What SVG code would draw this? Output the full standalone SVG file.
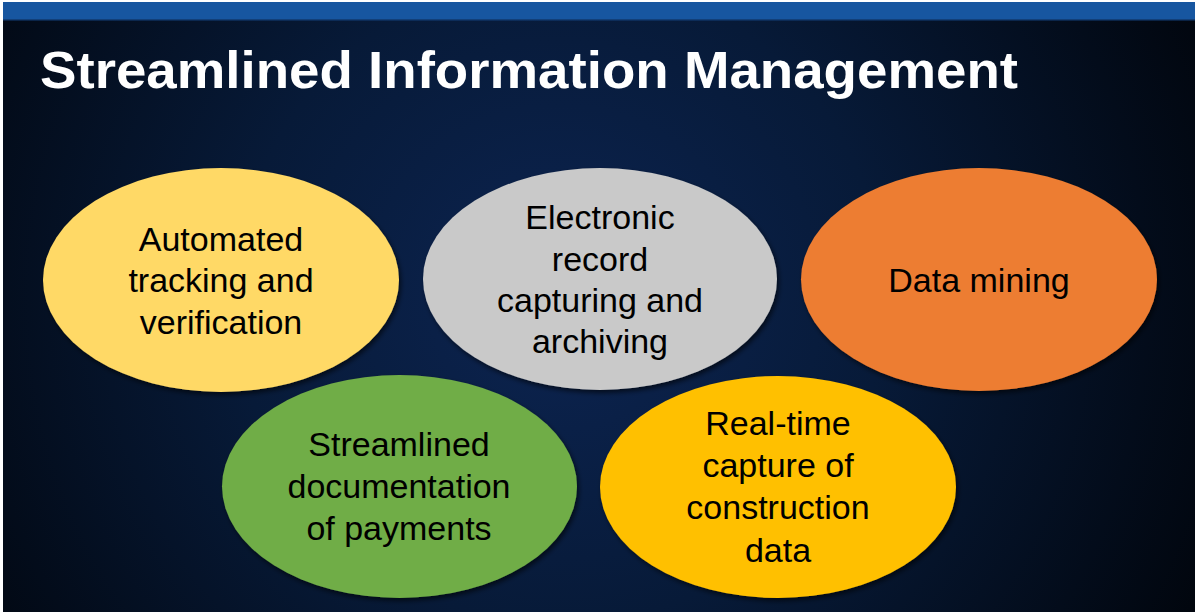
<svg xmlns="http://www.w3.org/2000/svg" width="1196" height="612" viewBox="0 0 1196 612">
  <defs>
    <radialGradient id="bg" cx="560" cy="300" r="720" gradientUnits="userSpaceOnUse">
      <stop offset="0" stop-color="#0c2451"/>
      <stop offset="0.45" stop-color="#071a38"/>
      <stop offset="1" stop-color="#01050c"/>
    </radialGradient>
    <filter id="sh" x="-10%" y="-10%" width="125%" height="125%">
      <feGaussianBlur in="SourceAlpha" stdDeviation="2.5"/>
      <feOffset dx="2" dy="3" result="b"/>
      <feFlood flood-color="#000" flood-opacity="0.6"/>
      <feComposite in2="b" operator="in"/>
      <feMerge><feMergeNode/><feMergeNode in="SourceGraphic"/></feMerge>
    </filter>
  </defs>
  <style>
    .lbl { font-family: "Liberation Sans", Arial, sans-serif; font-size: 34px; fill: #000; text-anchor: middle; }
    .title { font-family: "Liberation Sans", Arial, sans-serif; font-size: 52px; font-weight: bold; fill: #fff; }
    .node ellipse { filter: url(#sh); }
  </style>
  <rect width="1196" height="612" fill="#ffffff"/>
  <rect x="3" y="2" width="1192" height="610" fill="url(#bg)"/>
  <rect x="3" y="2" width="1192" height="18" fill="#1756a0"/>
  <rect x="3" y="19" width="1192" height="1.5" fill="#123f78"/>
  <text class="title" x="40" y="88" textLength="978" lengthAdjust="spacingAndGlyphs">Streamlined Information Management</text>
  <g id="connectors"></g>
  <g id="node-tracking" class="node">
    <ellipse cx="221" cy="280" rx="178" ry="112" fill="#ffd966"/>
    <text class="lbl" x="221" y="250.5">Automated</text>
    <text class="lbl" x="221" y="292">tracking and</text>
    <text class="lbl" x="221" y="334">verification</text>
  </g>
  <g id="node-electronic" class="node">
    <ellipse cx="600" cy="279" rx="177" ry="111" fill="#c9c9c9"/>
    <text class="lbl" x="600" y="229">Electronic</text>
    <text class="lbl" x="600" y="270.5">record</text>
    <text class="lbl" x="600" y="312">capturing and</text>
    <text class="lbl" x="600" y="353">archiving</text>
  </g>
  <g id="node-datamining" class="node">
    <ellipse cx="979" cy="279.5" rx="178" ry="111.5" fill="#ed7d31"/>
    <text class="lbl" x="979" y="292">Data mining</text>
  </g>
  <g id="node-payments" class="node">
    <ellipse cx="399.5" cy="486.5" rx="177.5" ry="111.5" fill="#70ad47"/>
    <text class="lbl" x="399" y="456">Streamlined</text>
    <text class="lbl" x="399" y="498">documentation</text>
    <text class="lbl" x="399" y="540">of payments</text>
  </g>
  <g id="node-realtime" class="node">
    <ellipse cx="778" cy="487" rx="178" ry="111" fill="#ffc000"/>
    <text class="lbl" x="778" y="435">Real-time</text>
    <text class="lbl" x="778" y="477">capture of</text>
    <text class="lbl" x="778" y="519">construction</text>
    <text class="lbl" x="778" y="561.5">data</text>
  </g>
</svg>
